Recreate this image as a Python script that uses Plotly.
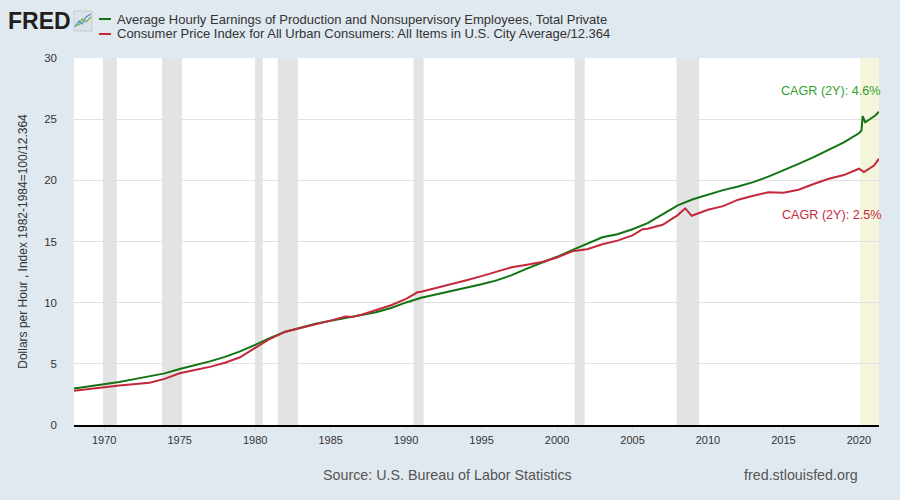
import plotly.graph_objects as go

# ---------------- data ----------------
earn_dates = ["1968-01-01","1969-01-01","1970-01-01","1971-01-01","1972-01-01","1973-01-01",
              "1974-01-01","1975-01-01","1976-01-01","1977-01-01","1978-01-01","1979-01-01",
              "1980-01-01","1981-01-01","1982-01-01","1983-01-01","1984-01-01","1985-01-01",
              "1986-01-01","1987-01-01","1988-01-01","1989-01-01","1990-01-01","1991-01-01",
              "1992-01-01","1993-01-01","1994-01-01","1995-01-01","1996-01-01","1997-01-01",
              "1998-01-01","1999-01-01","2000-01-01","2001-01-01","2002-01-01","2003-01-01",
              "2004-01-01","2005-01-01","2006-01-01","2007-01-01","2008-01-01","2009-01-01",
              "2010-01-01","2011-01-01","2012-01-01","2013-01-01","2014-01-01","2015-01-01",
              "2016-01-01","2017-01-01","2018-01-01","2019-01-01","2020-01-01","2020-03-01",
              "2020-04-01","2020-05-01","2020-06-01","2020-09-01","2020-12-01","2021-02-01",
              "2021-05-01"]
earn_vals = [2.98, 3.15, 3.32, 3.52, 3.75, 3.98,
             4.22, 4.58, 4.88, 5.20, 5.57, 6.02,
             6.55, 7.12, 7.62, 7.98, 8.28, 8.52,
             8.76, 8.96, 9.22, 9.56, 10.02, 10.40,
             10.68, 10.93, 11.18, 11.50, 11.82, 12.25,
             12.78, 13.25, 13.75, 14.30, 14.85, 15.35,
             15.60, 16.00, 16.50, 17.25, 17.95, 18.45,
             18.85, 19.20, 19.50, 19.85, 20.30, 20.80,
             21.35, 21.90, 22.50, 23.10, 23.85, 24.05,
             25.25, 24.95, 24.75, 24.95, 25.15, 25.30,
             25.60]

cpi_dates = ["1968-01-01","1969-01-01","1970-01-01","1971-01-01","1972-01-01","1973-01-01",
             "1974-01-01","1975-01-01","1976-01-01","1977-01-01","1978-01-01","1979-01-01",
             "1980-01-01","1981-01-01","1982-01-01","1983-01-01","1984-01-01","1985-01-01",
             "1986-01-01","1986-06-01","1987-01-01","1988-01-01","1989-01-01","1990-01-01",
             "1990-10-01","1991-01-01","1992-01-01","1993-01-01","1994-01-01","1995-01-01",
             "1996-01-01","1997-01-01","1998-01-01","1999-01-01","2000-01-01","2001-01-01",
             "2001-11-01","2002-01-01","2003-01-01","2004-01-01","2005-01-01","2005-09-01",
             "2006-01-01","2007-01-01","2008-01-01","2008-07-01","2008-12-01","2009-01-01",
             "2010-01-01","2011-01-01","2012-01-01","2013-01-01","2014-01-01","2015-01-01",
             "2016-01-01","2017-01-01","2018-01-01","2019-01-01","2020-01-01","2020-05-01",
             "2020-09-01","2021-01-01","2021-05-01"]
cpi_vals = [2.80, 2.92, 3.08, 3.23, 3.33, 3.45,
            3.77, 4.23, 4.50, 4.75, 5.09, 5.54,
            6.31, 7.05, 7.63, 7.91, 8.24, 8.53,
            8.86, 8.82, 8.99, 9.36, 9.79, 10.31,
            10.85, 10.89, 11.19, 11.55, 11.83, 12.17,
            12.51, 12.89, 13.10, 13.32, 13.69, 14.20,
            14.35, 14.37, 14.77, 15.07, 15.50, 16.00,
            16.04, 16.37, 17.16, 17.71, 17.10, 17.14,
            17.59, 17.89, 18.42, 18.74, 19.03, 18.98,
            19.23, 19.70, 20.13, 20.43, 20.95, 20.68,
            20.95, 21.21, 21.77]

rec_start = ["1969-12-01","1973-11-01","1980-01-01","1981-07-01","1990-07-01","2001-03-01","2007-12-01"]
rec_end   = ["1970-11-01","1975-03-01","1980-07-01","1982-11-01","1991-03-01","2001-11-01","2009-06-01"]
cur_start, cur_end = "2020-02-01", "2021-05-01"

x_range = ["1968-01-01", "2021-05-01"]
x_tickvals = ["%d-01-01" % y for y in range(1970, 2021, 5)]
x_ticktext = [str(y) for y in range(1970, 2021, 5)]

earn_name = "Average Hourly Earnings of Production and Nonsupervisory Employees, Total Private"
cpi_name = "Consumer Price Index for All Urban Consumers: All Items in U.S. City Average/12.364"
earn_cagr = "CAGR (2Y): 4.6%"
cpi_cagr = "CAGR (2Y): 2.5%"

GREEN = "#117311"
RED = "#c3283c"
SANS = "Liberation Sans, Arial, sans-serif"

fig = go.Figure()
fig.add_trace(go.Scatter(x=earn_dates, y=earn_vals, mode="lines", name=earn_name,
                         line=dict(color=GREEN, width=2), showlegend=False))
fig.add_trace(go.Scatter(x=cpi_dates, y=cpi_vals, mode="lines", name=cpi_name,
                         line=dict(color=RED, width=2), showlegend=False))

shapes = []
for s, e in zip(rec_start, rec_end):
    shapes.append(dict(type="rect", xref="x", yref="paper", x0=s, x1=e, y0=0, y1=1,
                       fillcolor="#e3e3e3", line=dict(width=0), layer="below"))
shapes.append(dict(type="rect", xref="x", yref="paper", x0=cur_start, x1=cur_end, y0=0, y1=1,
                   fillcolor="#f5f5dc", line=dict(width=0), layer="below"))

W, H = 900, 500
ml, mr, mt, mb = 74, 21, 58, 75
pw, ph = W - ml - mr, H - mt - mb
def px(xp):
    return (xp - ml) / pw
def py(yp):
    return (H - mb - yp) / ph

# legend swatches
for yy, col in [(19, GREEN), (34, RED)]:
    shapes.append(dict(type="line", xref="paper", yref="paper",
                       x0=px(99), x1=px(111), y0=py(yy), y1=py(yy),
                       line=dict(color=col, width=2)))

# small FRED icon
shapes.append(dict(type="rect", xref="paper", yref="paper",
                   x0=px(74), x1=px(92), y0=py(31), y1=py(11),
                   fillcolor="#dde2e6", line=dict(color="#c4c9ce", width=1)))
shapes.append(dict(type="path", xref="paper", yref="paper",
                   path="M %f,%f L %f,%f L %f,%f L %f,%f L %f,%f" % (
                       px(75), py(27), px(79), py(21), px(82), py(24), px(86), py(17), px(91), py(14)),
                   line=dict(color="#4a8fd0", width=1.2)))
shapes.append(dict(type="path", xref="paper", yref="paper",
                   path="M %f,%f L %f,%f L %f,%f L %f,%f L %f,%f" % (
                       px(75), py(25), px(79), py(25), px(82), py(19), px(86), py(22), px(91), py(17)),
                   line=dict(color="#6bb04a", width=1.2)))

annotations = [
    dict(text="<b>FRED</b>", xref="paper", yref="paper", x=px(6), y=py(21), xanchor="left",
         yanchor="middle", showarrow=False,
         font=dict(family=SANS, size=23, color="#231f20")),
    dict(text=earn_name, xref="paper", yref="paper", x=px(115), y=py(19), xanchor="left",
         yanchor="middle", showarrow=False, font=dict(family=SANS, size=13, color="#333333")),
    dict(text=cpi_name, xref="paper", yref="paper", x=px(115), y=py(34), xanchor="left",
         yanchor="middle", showarrow=False, font=dict(family=SANS, size=13, color="#333333")),
    dict(text=earn_cagr, xref="paper", yref="paper", x=px(882), y=py(91), xanchor="right",
         yanchor="middle", showarrow=False, font=dict(family=SANS, size=12.6, color="#33a02c")),
    dict(text=cpi_cagr, xref="paper", yref="paper", x=px(883), y=py(215), xanchor="right",
         yanchor="middle", showarrow=False, font=dict(family=SANS, size=12.6, color="#c8283c")),
    dict(text="Source: U.S. Bureau of Labor Statistics", xref="paper", yref="paper",
         x=px(447), y=py(475), xanchor="center", yanchor="middle", showarrow=False,
         font=dict(family=SANS, size=14.3, color="#555555")),
    dict(text="fred.stlouisfed.org", xref="paper", yref="paper",
         x=px(860), y=py(475), xanchor="right", yanchor="middle", showarrow=False,
         font=dict(family=SANS, size=14.3, color="#555555")),
]

fig.update_layout(
    width=W, height=H,
    margin=dict(l=ml, r=mr, t=mt, b=mb),
    paper_bgcolor="#e1e9f0",
    plot_bgcolor="#ffffff",
    shapes=shapes,
    annotations=annotations,
    showlegend=False,
    xaxis=dict(type="date", range=x_range, tickvals=x_tickvals, ticktext=x_ticktext,
               showgrid=False, zeroline=False, showline=True, linecolor="#000000", linewidth=2,
               ticks="outside", ticklen=4, tickcolor="#ccd6eb", ticklabelstandoff=0,
               tickfont=dict(family=SANS, size=11, color="#333333")),
    yaxis=dict(range=[0, 30], dtick=5, showgrid=True, gridcolor="#e1e1e1", gridwidth=1,
               zeroline=False, showline=False, ticks="", ticklabelstandoff=16,
               tickfont=dict(family=SANS, size=11.5, color="#333333"),
               title=dict(text="Dollars per Hour , Index 1982-1984=100/12.364", standoff=14,
                          font=dict(family=SANS, size=12, color="#333333"))),
)

fig.write_html("out.html", config={"displayModeBar": False},
               post_script="document.body.style.margin='0';document.body.style.padding='0';")
